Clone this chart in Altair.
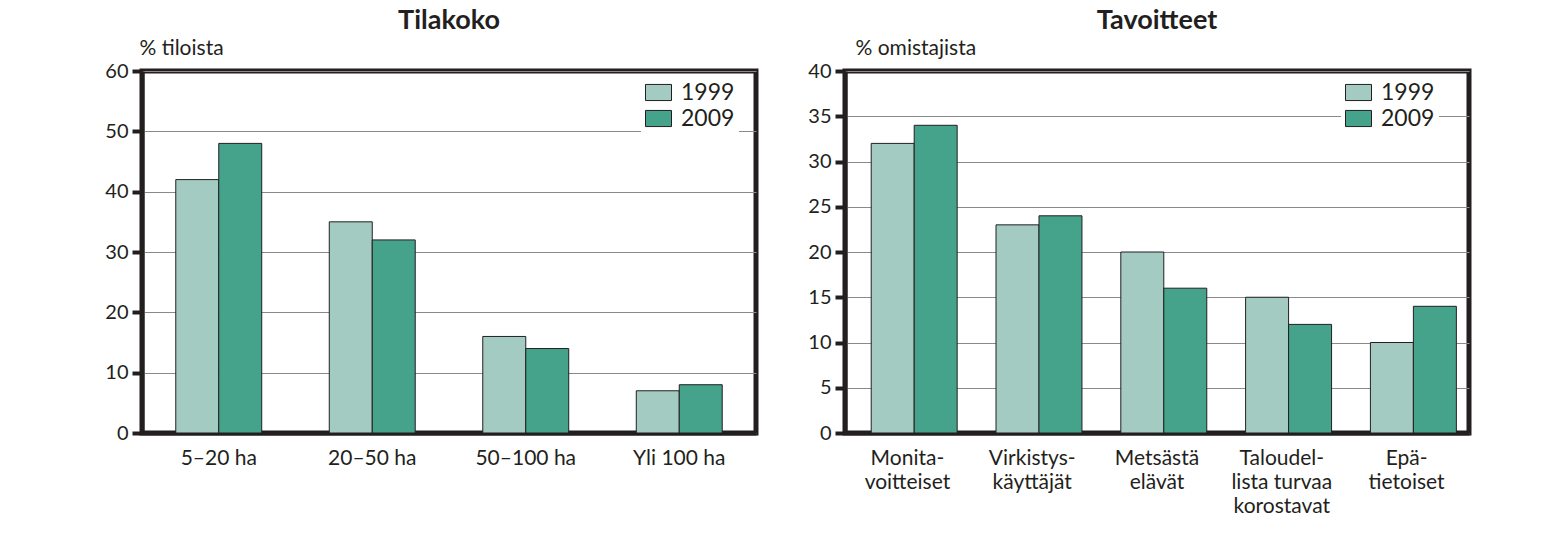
import altair as alt
import pandas as pd

years = ["1999", "2009"]

cats_size = ["5–20 ha", "20–50 ha", "50–100 ha", "Yli 100 ha"]
size_1999 = [42, 35, 16, 7]
size_2009 = [48, 32, 14, 8]

cats_goal = ["Monita-\nvoitteiset", "Virkistys-\nkäyttäjät", "Metsästä\nelävät",
             "Taloudel-\nlista turvaa\nkorostavat", "Epä-\ntietoiset"]
goal_1999 = [32, 23, 20, 15, 10]
goal_2009 = [34, 24, 16, 12, 14]

colors = ["#a4cbc1", "#46a38b"]
FONT = "Lato"
INK = "#231f20"
RECT = "M-1,-0.62L1,-0.62L1,0.62L-1,0.62Z"


def frame(cats, v1, v2):
    rows = []
    for c, a, b in zip(cats, v1, v2):
        rows.append({"cat": c, "year": years[0], "value": a})
        rows.append({"cat": c, "year": years[1], "value": b})
    return pd.DataFrame(rows)


def panel(df, cats, title, ytitle, ymax, step, width, pad_inner, title_x, legend_x):
    return alt.Chart(df, title=alt.Title(title, fontSize=27, fontWeight="bold",
                                         font=FONT, color=INK, anchor="middle",
                                         offset=2)).mark_bar(
        stroke=INK, strokeWidth=1
    ).encode(
        x=alt.X("cat:N", sort=cats,
                scale=alt.Scale(paddingInner=pad_inner, paddingOuter=pad_inner / 2),
                axis=alt.Axis(title=None, labelAngle=0, ticks=False,
                              labelExpr="split(datum.label, '\\n')",
                              labelPadding=14, labelFontSize=21, labelLineHeight=24,
                              labelFont=FONT, labelColor=INK,
                              domainColor=INK, domainWidth=4, grid=False)),
        xOffset=alt.XOffset("year:N", sort=years),
        y=alt.Y("value:Q", scale=alt.Scale(domain=[0, ymax], nice=False),
                axis=alt.Axis(values=list(range(0, ymax + 1, step)), title=ytitle,
                              titleAngle=0, titleAlign="left", titleBaseline="alphabetic",
                              titleX=title_x, titleY=-17, titleFontSize=21,
                              titleFontWeight="normal", titleFont=FONT, titleColor=INK,
                              labelFontSize=20, labelFont=FONT, labelColor=INK,
                              labelPadding=4,
                              tickSize=10, tickWidth=4, tickColor=INK,
                              domainColor=INK, domainWidth=4,
                              grid=True, gridColor="#8a8a8a", gridWidth=1)),
        color=alt.Color("year:N", scale=alt.Scale(domain=years, range=colors),
                        legend=alt.Legend(title=None, orient="none", legendX=legend_x,
                                          legendY=4, symbolType=RECT, symbolSize=676,
                                          symbolStrokeColor=INK, symbolStrokeWidth=1,
                                          symbolOpacity=1,
                                          labelFontSize=23, labelFont=FONT,
                                          labelColor=INK, labelOffset=9,
                                          rowPadding=0, padding=4, fillColor="white")),
    ).properties(width=width, height=362)


left = panel(frame(cats_size, size_1999, size_2009), cats_size, "Tilakoko",
             "% tiloista", 60, 10, 614, 0.44, -3, 499)
right = panel(frame(cats_goal, goal_1999, goal_2009), cats_goal, "Tavoitteet",
              "% omistajista", 40, 5, 624, 0.42, 10, 496)

chart = alt.hconcat(left, right, spacing=46).resolve_scale(
    color="independent", x="independent", y="independent"
).configure(
    font=FONT, padding={"left": 102, "top": 4, "right": 10, "bottom": 5}
).configure_view(
    stroke=INK, strokeWidth=5
)

chart.save("out.html", embed_options={"renderer": "svg", "actions": False})
